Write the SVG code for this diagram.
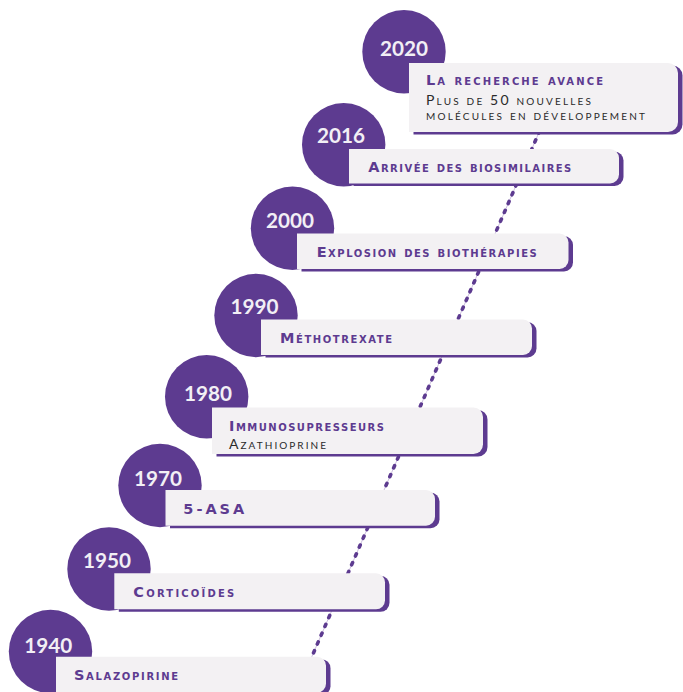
<svg xmlns="http://www.w3.org/2000/svg" width="683" height="692" viewBox="0 0 683 692">
<style>
.bg{fill:#ffffff}
.dot{fill:#5d3b90}
.shadow{fill:#5d3b90}
.box{fill:#f3f1f3}
.year{font-family:"Lato","Noto Sans",sans-serif;font-weight:700;font-size:21px;fill:#f2eff5;text-anchor:middle}
.title{font-family:"DejaVu Sans","Noto Sans",sans-serif;font-weight:700;font-size:14.5px;fill:#5d3b90;font-variant:small-caps}
.sub{font-family:"Lato","Noto Sans",sans-serif;font-weight:400;font-size:14px;fill:#2a2a2a;font-variant:small-caps}
.link-bg{stroke:#cdbfe0;stroke-width:1;fill:none}
.link{stroke:#5d3b90;stroke-width:3.6;stroke-linecap:round;stroke-dasharray:2.4 7.2;fill:none}
</style>
<rect class="bg" x="0" y="0" width="683" height="692"/>
<g id="connectors">
<line class="link-bg" x1="539.6" y1="131" x2="311.7" y2="657"/>
<line class="link" x1="539.6" y1="131" x2="311.7" y2="657"/>
</g>
<g id="n2020">
<circle class="dot" cx="404" cy="51.7" r="41.7"/>
<path class="shadow" transform="translate(4.5,2.5)" d="M409 63 H668 a10 10 0 0 1 10 10 V122 a10 10 0 0 1 -10 10 H409 Z"/>
<path class="box" d="M409 63 H668 a10 10 0 0 1 10 10 V122 a10 10 0 0 1 -10 10 H409 Z"/>
<text class="year" x="404" y="56" textLength="48" lengthAdjust="spacingAndGlyphs">2020</text>
<text class="title" x="426" y="85" textLength="177" lengthAdjust="spacing">La recherche avance</text>
<text class="sub" x="426" y="104.5" textLength="165" lengthAdjust="spacing">Plus de 50 nouvelles</text>
<text class="sub" x="426" y="120" textLength="219" lengthAdjust="spacing">molécules en développement</text>
</g>
<g id="n2016">
<circle class="dot" cx="343.7" cy="144.7" r="41.7"/>
<path class="shadow" transform="translate(4.5,2.5)" d="M349 149 H610 a9 9 0 0 1 9 9 V174.5 a9 9 0 0 1 -9 9 H349 Z"/>
<path class="box" d="M349 149 H610 a9 9 0 0 1 9 9 V174.5 a9 9 0 0 1 -9 9 H349 Z"/>
<text class="year" x="341" y="143.3" textLength="48" lengthAdjust="spacingAndGlyphs">2016</text>
<text class="title" x="368.3" y="171.7" textLength="203" lengthAdjust="spacing">Arrivée des biosimilaires</text>
</g>
<g id="n2000">
<circle class="dot" cx="292.5" cy="228.3" r="41.7"/>
<path class="shadow" transform="translate(4.5,2.5)" d="M297 233.5 H559.5 a9 9 0 0 1 9 9 V260 a9 9 0 0 1 -9 9 H297 Z"/>
<path class="box" d="M297 233.5 H559.5 a9 9 0 0 1 9 9 V260 a9 9 0 0 1 -9 9 H297 Z"/>
<text class="year" x="290" y="228.3" textLength="48" lengthAdjust="spacingAndGlyphs">2000</text>
<text class="title" x="316.7" y="256.7" textLength="220" lengthAdjust="spacing">Explosion des biothérapies</text>
</g>
<g id="n1990">
<circle class="dot" cx="256" cy="315.5" r="41.7"/>
<path class="shadow" transform="translate(4.5,2.5)" d="M261 319.5 H523 a9 9 0 0 1 9 9 V346 a9 9 0 0 1 -9 9 H261 Z"/>
<path class="box" d="M261 319.5 H523 a9 9 0 0 1 9 9 V346 a9 9 0 0 1 -9 9 H261 Z"/>
<text class="year" x="254.5" y="314.3" textLength="48" lengthAdjust="spacingAndGlyphs">1990</text>
<text class="title" x="280" y="342.7" textLength="112" lengthAdjust="spacing">Méthotrexate</text>
</g>
<g id="n1980">
<circle class="dot" cx="206.7" cy="396.7" r="41.7"/>
<path class="shadow" transform="translate(4.5,2.5)" d="M212 407.5 H473.5 a9.5 9.5 0 0 1 9.5 9.5 V444.5 a9.5 9.5 0 0 1 -9.5 9.5 H212 Z"/>
<path class="box" d="M212 407.5 H473.5 a9.5 9.5 0 0 1 9.5 9.5 V444.5 a9.5 9.5 0 0 1 -9.5 9.5 H212 Z"/>
<text class="year" x="208" y="400.7" textLength="48" lengthAdjust="spacingAndGlyphs">1980</text>
<text class="title" x="229" y="431" textLength="155" lengthAdjust="spacing">Immunosupresseurs</text>
<text class="sub" x="229" y="449" textLength="97" lengthAdjust="spacing">Azathioprine</text>
</g>
<g id="n1970">
<circle class="dot" cx="160" cy="485.5" r="41.7"/>
<path class="shadow" transform="translate(4.5,2.5)" d="M165.5 490 H426 a9 9 0 0 1 9 9 V516.7 a9 9 0 0 1 -9 9 H165.5 Z"/>
<path class="box" d="M165.5 490 H426 a9 9 0 0 1 9 9 V516.7 a9 9 0 0 1 -9 9 H165.5 Z"/>
<text class="year" x="158" y="486" textLength="48" lengthAdjust="spacingAndGlyphs">1970</text>
<text class="title" x="183.3" y="514.3" textLength="61" lengthAdjust="spacing">5-ASA</text>
</g>
<g id="n1950">
<circle class="dot" cx="109" cy="569" r="41.7"/>
<path class="shadow" transform="translate(4.5,2.5)" d="M114.3 573.3 H376 a9 9 0 0 1 9 9 V600.3 a9 9 0 0 1 -9 9 H114.3 Z"/>
<path class="box" d="M114.3 573.3 H376 a9 9 0 0 1 9 9 V600.3 a9 9 0 0 1 -9 9 H114.3 Z"/>
<text class="year" x="107" y="568.3" textLength="48" lengthAdjust="spacingAndGlyphs">1950</text>
<text class="title" x="133.3" y="597.3" textLength="101" lengthAdjust="spacing">Corticoïdes</text>
</g>
<g id="n1940">
<circle class="dot" cx="50.5" cy="651.5" r="41.7"/>
<path class="shadow" transform="translate(4.5,2.5)" d="M56 656.7 H317 a9 9 0 0 1 9 9 V683.7 a9 9 0 0 1 -9 9 H56 Z"/>
<path class="box" d="M56 656.7 H317 a9 9 0 0 1 9 9 V683.7 a9 9 0 0 1 -9 9 H56 Z"/>
<text class="year" x="48.3" y="652.7" textLength="48" lengthAdjust="spacingAndGlyphs">1940</text>
<text class="title" x="74" y="680" textLength="104" lengthAdjust="spacing">Salazopirine</text>
</g>
</svg>
